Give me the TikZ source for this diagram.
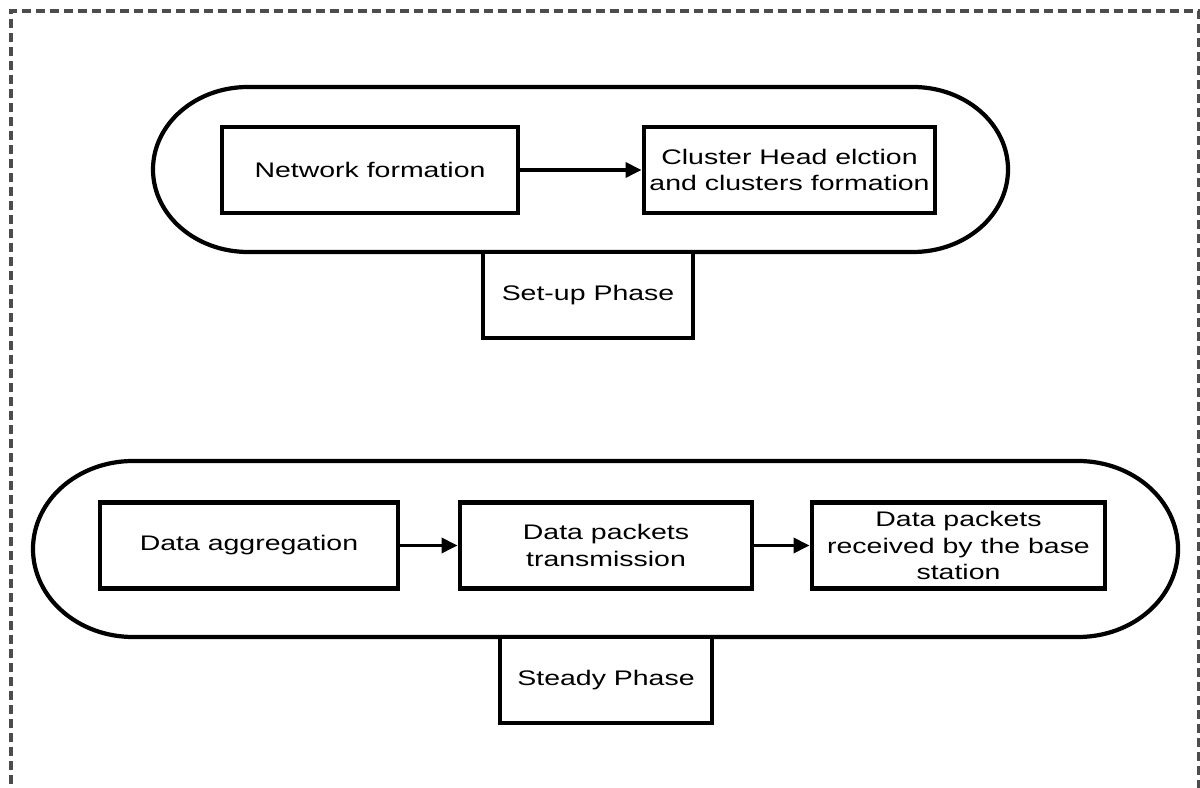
\documentclass[tikz,border=0pt]{standalone}
\usepackage{fontspec}
\setmainfont{Liberation Sans}[FakeStretch=1.35]
\usetikzlibrary{arrows.meta}

\begin{document}
\begin{tikzpicture}[
  stage/.style={draw, line width=2.8pt, minimum height=1.72cm,
    align=center, inner sep=0pt, fill=white,
    font=\fontsize{12}{15}\selectfont},
  phase/.style={draw, line width=2.4pt},
  flow/.style={line width=2pt, -{Triangle[length=3.2mm,width=3mm]}},
  frame/.style={draw=black!70, line width=2.2pt, dash pattern=on 0.18cm off 0.1cm}
]
\useasboundingbox (0,0) rectangle (24,15.74);
\clip (0,0) rectangle (24,15.74);
\draw[frame] (0.22,-0.5) -- (0.22,15.52) -- (23.98,15.52) -- (23.98,-0.5);

% set-up phase
\draw[phase] (4.96,14.0) -- (18.26,14.0)
  arc[start angle=90, end angle=-90, x radius=1.9, y radius=1.65]
  -- (4.96,10.7)
  arc[start angle=270, end angle=90, x radius=1.9, y radius=1.65] -- cycle;
\node[stage, minimum width=5.92cm] (net) at (7.40,12.34) {Network formation};
\node[stage, minimum width=5.82cm] (chead) at (15.79,12.34)
  {Cluster Head elction\\and clusters formation};
\node[stage, minimum width=4.2cm] (setup) at (11.76,9.84) {Set-up Phase};
\draw[flow] (net) -- (chead);

% steady phase
\draw[phase] (2.66,6.52) -- (21.56,6.52)
  arc[start angle=90, end angle=-90, x radius=2.0, y radius=1.76]
  -- (2.66,3.0)
  arc[start angle=270, end angle=90, x radius=2.0, y radius=1.76] -- cycle;
\node[stage, minimum width=5.96cm] (agg) at (4.98,4.83) {Data aggregation};
\node[stage, minimum width=5.84cm] (trans) at (12.12,4.83)
  {Data packets\\transmission};
\node[stage, minimum width=5.86cm] (recv) at (19.17,4.83)
  {Data packets\\received by the base\\station};
\node[stage, minimum width=4.24cm] (steady) at (12.12,2.14) {Steady Phase};
\draw[flow] (agg) -- (trans);
\draw[flow] (trans) -- (recv);
\end{tikzpicture}
\end{document}
